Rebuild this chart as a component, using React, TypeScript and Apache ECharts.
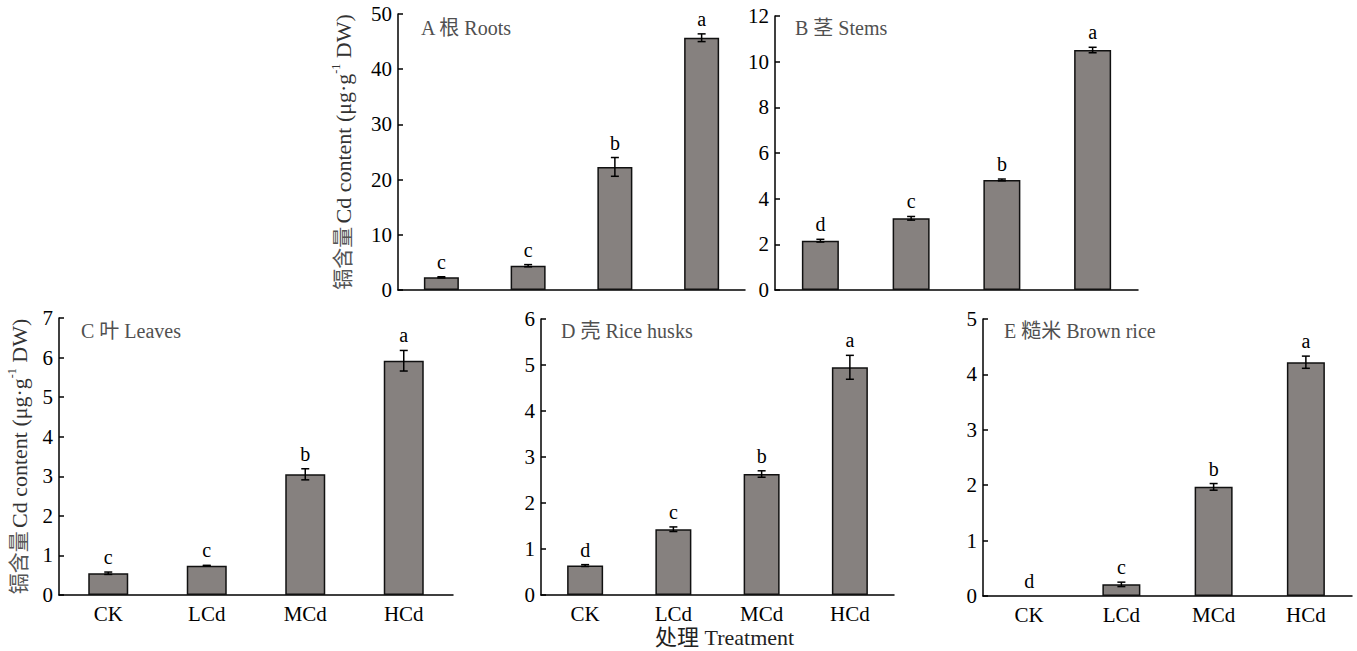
import React, { useEffect, useRef } from "react";
import * as echarts from "echarts";

const categories = ["CK", "LCd", "MCd", "HCd"];

const rootsMean = [2.3, 4.4, 22.3, 45.7];
const rootsErr = [0.1, 0.2, 1.7, 0.7];
const rootsLetters = ["c", "c", "b", "a"];

const stemsMean = [2.16, 3.14, 4.82, 10.51];
const stemsErr = [0.06, 0.08, 0.04, 0.12];
const stemsLetters = ["d", "c", "b", "a"];

const leavesMean = [0.55, 0.74, 3.05, 5.92];
const leavesErr = [0.03, 0.01, 0.14, 0.26];
const leavesLetters = ["c", "c", "b", "a"];

const husksMean = [0.64, 1.43, 2.63, 4.95];
const husksErr = [0.02, 0.05, 0.07, 0.26];
const husksLetters = ["d", "c", "b", "a"];

const brownMean = [0, 0.21, 1.97, 4.22];
const brownErr = [0, 0.04, 0.06, 0.11];
const brownLetters = ["d", "c", "b", "a"];

const panelTitles = ["A 根 Roots", "B 茎 Stems", "C 叶 Leaves", "D 壳 Rice husks", "E 糙米 Brown rice"];
const yMax = [50, 12, 7, 6, 5];
const yInterval = [10, 2, 1, 1, 1];

const FONT = "'Liberation Serif', 'Times New Roman', 'Noto Sans CJK SC', serif";

export default function App() {
  const ref = useRef<HTMLDivElement>(null);
  useEffect(() => {
    if (!ref.current) return;
    const chart = echarts.init(ref.current, null, { renderer: "svg" });

    const panels = [
      { mean: rootsMean, err: rootsErr, letters: rootsLetters, grid: { left: 398, top: 14, width: 347, height: 276 }, barWidth: 35, showX: false, yName: true, nameGap: 42, titlePos: [421, 18] },
      { mean: stemsMean, err: stemsErr, letters: stemsLetters, grid: { left: 775, top: 16, width: 363, height: 274 }, barWidth: 37, showX: false, yName: false, nameGap: 0, titlePos: [795, 18] },
      { mean: leavesMean, err: leavesErr, letters: leavesLetters, grid: { left: 59, top: 318, width: 394, height: 277 }, barWidth: 40, showX: true, yName: true, nameGap: 27, titlePos: [81, 321] },
      { mean: husksMean, err: husksErr, letters: husksLetters, grid: { left: 541, top: 319, width: 353, height: 276 }, barWidth: 36, showX: true, yName: false, nameGap: 0, titlePos: [561, 321] },
      { mean: brownMean, err: brownErr, letters: brownLetters, grid: { left: 983, top: 319, width: 369, height: 277 }, barWidth: 38, showX: true, yName: false, nameGap: 0, titlePos: [1004, 321] },
    ];

    const yNameText = "{c|镉含量} {t|Cd content (μg·g}{s|-1}{t| DW)}";

    const option: any = {
      animation: false,
      backgroundColor: "#ffffff",
      title: panels.map((p, i) => ({
        text: panelTitles[i],
        left: p.titlePos[0],
        top: p.titlePos[1],
        padding: 0,
        textStyle: { fontFamily: FONT, fontSize: 20, fontWeight: "normal", color: "#505050" },
      })),
      grid: panels.map((p) => ({ ...p.grid, containLabel: false })),
      xAxis: panels.map((p, i) => ({
        type: "category",
        gridIndex: i,
        data: categories,
        axisLine: { lineStyle: { color: "#000", width: 1.5 } },
        axisTick: { show: false },
        axisLabel: { show: p.showX, fontFamily: FONT, fontSize: 21, color: "#000", margin: 8 },
        splitLine: { show: false },
      })),
      yAxis: panels.map((p, i) => ({
        type: "value",
        gridIndex: i,
        min: 0,
        max: yMax[i],
        interval: yInterval[i],
        name: p.yName ? yNameText : "",
        nameLocation: "middle",
        nameRotate: 90,
        nameGap: p.nameGap,
        nameTextStyle: {
          color: "#333",
          rich: {
            c: { fontFamily: FONT, fontSize: 21, color: "#555", lineHeight: 26 },
            t: { fontFamily: FONT, fontSize: 22, color: "#333", lineHeight: 26 },
            s: { fontFamily: FONT, fontSize: 12, color: "#333", verticalAlign: "top", lineHeight: 26, padding: [0, 0, 9, 0] },
          },
        },
        axisLine: { show: true, lineStyle: { color: "#000", width: 1.5 } },
        axisTick: { show: true, inside: true, length: 5, lineStyle: { color: "#000", width: 1.5 } },
        axisLabel: { fontFamily: FONT, fontSize: 21, color: "#000", margin: 6 },
        splitLine: { show: false },
      })),
      graphic: [
        {
          type: "text",
          left: 655,
          top: 626,
          style: { text: "处理 Treatment", font: `22px ${FONT}`, fill: "#222" },
        },
      ],
      series: [] as any[],
    };

    panels.forEach((p, i) => {
      option.series.push({
        type: "bar",
        xAxisIndex: i,
        yAxisIndex: i,
        data: p.mean.map((v) => (v === 0 ? { value: v, itemStyle: { borderWidth: 0 } } : v)),
        barWidth: p.barWidth,
        itemStyle: { color: "#86817f", borderColor: "#111", borderWidth: 1.5 },
        silent: true,
      });
      option.series.push({
        type: "custom",
        xAxisIndex: i,
        yAxisIndex: i,
        data: p.mean.map((v, k) => [k, v]),
        clip: false,
        z: 5,
        renderItem: (params: any, api: any) => {
          const k = params.dataIndex;
          const m = p.mean[k];
          const e = p.err[k];
          const top = api.coord([k, m + e]);
          const bot = api.coord([k, Math.max(0, m - e)]);
          const cx = top[0];
          const cap = 4;
          const children: any[] = [];
          if (e > 0) {
            const ls = { stroke: "#000", lineWidth: 1.5 };
            children.push({ type: "line", shape: { x1: cx, y1: top[1], x2: cx, y2: bot[1] }, style: ls });
            children.push({ type: "line", shape: { x1: cx - cap, y1: top[1], x2: cx + cap, y2: top[1] }, style: ls });
            children.push({ type: "line", shape: { x1: cx - cap, y1: bot[1], x2: cx + cap, y2: bot[1] }, style: ls });
          }
          children.push({
            type: "text",
            style: {
              text: p.letters[k],
              x: cx,
              y: top[1] - 5,
              textAlign: "center",
              textVerticalAlign: "bottom",
              font: `20px ${FONT}`,
              fill: "#000",
            },
          });
          return { type: "group", children };
        },
      });
    });

    chart.setOption(option);
    return () => chart.dispose();
  }, []);

  return <div ref={ref} style={{ position: "fixed", left: 0, top: 0, width: 1357, height: 651 }} />;
}
